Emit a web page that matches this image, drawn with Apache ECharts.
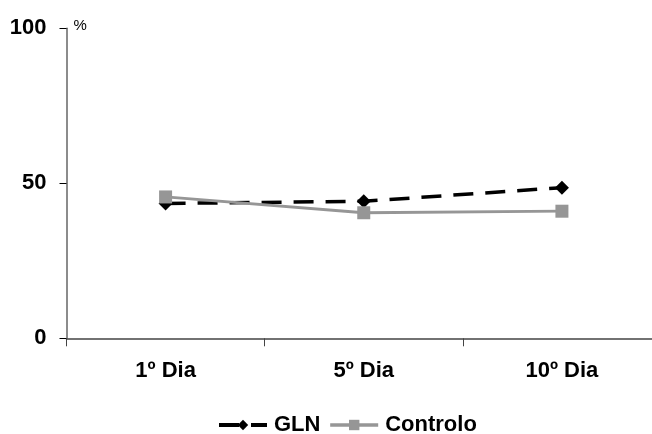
<!DOCTYPE html>
<html><head><meta charset="utf-8">
<script src="https://cdn.jsdelivr.net/npm/echarts@6/dist/echarts.min.js"></script>
<style>html,body{margin:0;padding:0;background:#fff}#c{width:652px;height:434px}</style>
</head><body><div id="c"></div>
<script>
const categories = ['1º Dia', '5º Dia', '10º Dia'];
const glnValues = [43.5, 44.2, 48.6];
const controloValues = [45.6, 40.5, 41.0];
const seriesNames = ['GLN', 'Controlo'];
const yTicks = [0, 50, 100];

const chart = echarts.init(document.getElementById('c'));
const font = 'Liberation Sans, Arial, sans-serif';
chart.setOption({
  animation: false,
  backgroundColor: '#fff',
  grid: { left: 66.5, width: 594.5, top: 28.3, height: 310, containLabel: false, outerBoundsMode: 'none' },
  xAxis: {
    type: 'category', data: categories, boundaryGap: true,
    axisLine: { lineStyle: { color: '#444', width: 1.5 } },
    axisTick: { show: true, length: 8, lineStyle: { color: '#444' } },
    axisLabel: { margin: 22, color: '#000', fontSize: 22, fontWeight: 'bold', fontFamily: font }
  },
  yAxis: {
    type: 'value', min: yTicks[0], max: yTicks[yTicks.length - 1], interval: 50,
    name: '%', nameLocation: 'end', nameGap: 0,
    nameTextStyle: { color: '#000', fontSize: 15, fontFamily: font, align: 'left', padding: [0, 0, -5, 7] },
    axisLine: { show: true, lineStyle: { color: '#666', width: 1.5 } },
    axisTick: { show: true, length: 7, lineStyle: { color: '#000' } },
    splitLine: { show: false },
    axisLabel: { margin: 20, color: '#000', fontSize: 22, fontWeight: 'bold', fontFamily: font }
  },
  legend: {
    top: 409, left: 212, itemWidth: 48, itemHeight: 13, itemGap: 8,
    textStyle: { color: '#000', fontSize: 22, fontWeight: 'bold', fontFamily: font, padding: [0, 0, 0, 2] },
    data: [
      { name: seriesNames[0], lineStyle: { width: 4 } },
      { name: seriesNames[1], lineStyle: { width: 3.5 } }
    ]
  },
  series: [
    {
      name: seriesNames[0], type: 'line', data: glnValues,
      symbol: 'diamond', symbolSize: 14,
      itemStyle: { color: '#000' },
      lineStyle: { color: '#000', width: 3.5, type: [20, 12] }
    },
    {
      name: seriesNames[1], type: 'line', data: controloValues,
      symbol: 'rect', symbolSize: 13,
      itemStyle: { color: '#969696' },
      lineStyle: { color: '#969696', width: 2.8 }
    }
  ]
});
</script></body></html>
